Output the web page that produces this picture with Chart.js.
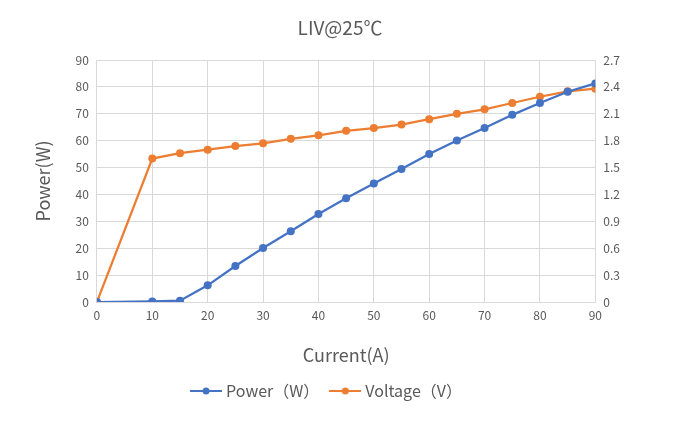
<!DOCTYPE html>
<html>
<head>
<meta charset="utf-8">
<script src="https://cdn.jsdelivr.net/npm/chart.js@4"></script>
<style>
  html, body { margin: 0; padding: 0; background: #fff; }
  #wrap { width: 700px; height: 441px; }
</style>
</head>
<body>
<div id="wrap"><canvas id="myChart" width="700" height="441"></canvas></div>
<script>
const current = [0, 10, 15, 20, 25, 30, 35, 40, 45, 50, 55, 60, 65, 70, 75, 80, 85, 90];
const power = [0, 0.2, 0.5, 6.2, 13.4, 20.1, 26.3, 32.7, 38.6, 44.1, 49.5, 55.0, 60.1, 64.7, 69.6, 74.0, 78.2, 81.3];
const voltage = [0, 1.60, 1.66, 1.70, 1.74, 1.77, 1.82, 1.86, 1.91, 1.94, 1.98, 2.04, 2.10, 2.15, 2.22, 2.29, 2.35, 2.38];
const chartTitle = "LIV@25℃";

const BLUE = "#4472C4";
const ORANGE = "#ED7D31";
const TEXT = "#595959";
const FONT = "'Noto Sans CJK SC', 'Noto Sans', sans-serif";

// legend marker: short line with a dot in the middle
function marker(color) {
  const c = document.createElement("canvas");
  c.width = 32;
  c.height = 10;
  const g = c.getContext("2d");
  g.strokeStyle = color;
  g.lineWidth = 2;
  g.beginPath();
  g.moveTo(0, 5);
  g.lineTo(32, 5);
  g.stroke();
  g.fillStyle = color;
  g.beginPath();
  g.arc(16, 5, 3.5, 0, Math.PI * 2);
  g.fill();
  return c;
}

// the Excel title sits a bit left of the plot centre, so draw it ourselves
const titlePlugin = {
  id: "xlTitle",
  afterDraw(chart) {
    const ctx = chart.ctx;
    ctx.save();
    ctx.fillStyle = TEXT;
    ctx.font = "19px " + FONT;
    ctx.textAlign = "center";
    ctx.textBaseline = "middle";
    ctx.fillText(chartTitle, 340, 28);
    ctx.restore();
  },
};

const toPts = (vals) => current.map((x, i) => ({ x: x, y: vals[i] }));

const config = {
  type: "line",
  data: {
    datasets: [
      {
        label: "Power（W）",
        data: toPts(power),
        borderColor: BLUE,
        backgroundColor: BLUE,
        borderWidth: 2.25,
        pointRadius: 4,
        pointBorderWidth: 0,
        yAxisID: "y",
      },
      {
        label: "Voltage（V）",
        data: toPts(voltage),
        borderColor: ORANGE,
        backgroundColor: ORANGE,
        borderWidth: 2.25,
        pointRadius: 4,
        pointBorderWidth: 0,
        yAxisID: "y2",
      },
    ],
  },
  plugins: [titlePlugin],
  options: {
    responsive: false,
    animation: false,
    layout: { padding: { top: 60, left: 28, right: 72, bottom: 32 } },
    plugins: {
      title: { display: false },
      legend: {
        position: "bottom",
        labels: {
          color: TEXT,
          font: { family: FONT, size: 16 },
          usePointStyle: true,
          pointStyleWidth: 24,
          padding: 14,
          generateLabels: (chart) =>
            chart.data.datasets.map((ds, i) => ({
              text: ds.label,
              fillStyle: ds.borderColor,
              strokeStyle: ds.borderColor,
              fontColor: TEXT,
              pointStyle: marker(ds.borderColor),
              datasetIndex: i,
              hidden: false,
            })),
        },
      },
      tooltip: { enabled: false },
    },
    scales: {
      x: {
        type: "linear",
        min: 0,
        max: 90,
        ticks: { stepSize: 10, color: TEXT, font: { family: FONT, size: 12 }, padding: 6 },
        grid: { color: "#d9d9d9", drawTicks: false },
        border: { color: "#d9d9d9" },
        title: {
          display: true,
          text: "Current(A)",
          color: TEXT,
          font: { family: FONT, size: 18 },
          padding: { top: 16, bottom: 3 },
        },
      },
      y: {
        position: "left",
        min: 0,
        max: 90,
        ticks: { stepSize: 10, color: TEXT, font: { family: FONT, size: 12 }, padding: 8 },
        grid: { color: "#d9d9d9", drawTicks: false },
        border: { display: false },
        title: {
          display: true,
          text: "Power(W)",
          color: TEXT,
          font: { family: FONT, size: 18 },
          padding: { bottom: 14 },
        },
      },
      y2: {
        position: "right",
        min: 0,
        max: 2.7,
        ticks: {
          stepSize: 0.3,
          color: TEXT,
          font: { family: FONT, size: 12 },
          padding: 8,
          callback: (v) => (Math.round(v * 10) / 10).toString(),
        },
        grid: { display: false, drawTicks: false },
        border: { color: "#d9d9d9" },
      },
    },
  },
};

new Chart(document.getElementById("myChart"), config);
</script>
</body>
</html>
